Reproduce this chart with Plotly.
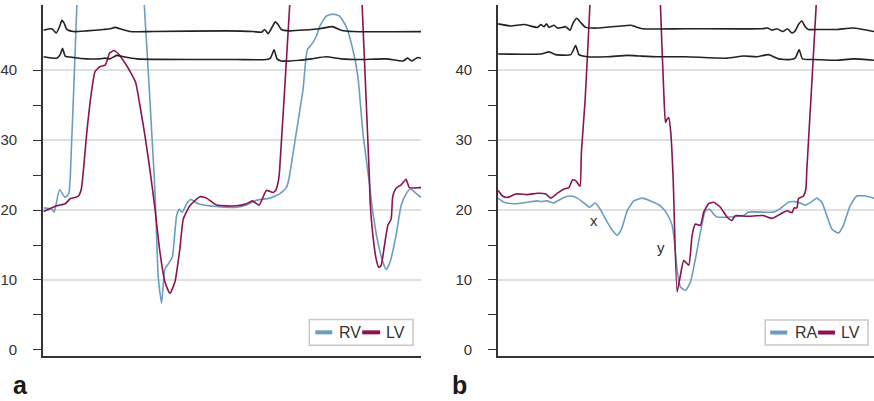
import plotly.graph_objects as go

W, H = 874, 401

# ---------------- Panel a: RV vs LV ----------------
a_rv_t = [1.0, 9, 11.3, 16.7, 22.3, 26.0, 27.5, 34, 36, 60, 95, 101.7, 111.5, 113, 115.7, 119,
          122.3, 125.7, 129.7, 134, 136.7, 139.7, 144, 148.3, 155.7, 174, 194, 204, 214, 227.3,
          237.3, 244, 246.5, 254, 260.7, 265, 269, 274, 277.3, 284, 290.7, 297.3, 304, 310.7,
          315.7, 320.7, 326.7, 330.7, 335.7, 340.7, 344, 348, 354, 359, 364, 368.3, 372.3, 379]
a_rv_v = [20.3, 20.1, 19.7, 22.9, 21.8, 22.4, 25.0, 49.1, 56, 70, 62, 49.1, 25.0, 20.2, 10.2, 6.7,
          11.6, 12.3, 13.3, 19.2, 20.1, 19.7, 20.9, 21.5, 20.9, 20.5, 20.4, 20.7, 21.4, 21.7,
          22.3, 23.2, 24.4, 31.1, 37.2, 42.9, 43.6, 44.8, 46.2, 47.7, 48.0, 47.7, 46.2, 42.9,
          39.1, 31.1, 24.4, 19.7, 15.4, 12.6, 11.5, 12.6, 16.4, 20.6, 22.3, 23.0, 22.6, 21.8]

a_lv_t = [0.7, 14, 22.3, 27.3, 32.3, 35.7, 38.5, 40.5, 44, 49, 52.3, 57.3, 62.3, 64.7, 66.7, 71.3,
          75.7, 82.3, 87.3, 93, 97.3, 102.3, 108, 112.3, 117.3, 122.3, 127.3, 132.3, 137.3, 140.7,
          147.3, 157.3, 164, 174, 194, 204, 210, 216.7, 224, 230.7, 234, 236.3, 237.3, 247.3, 250,
          290, 318, 320, 327.3, 328, 330.7, 334, 336.7, 339, 342.3, 345.7, 349, 350.7, 354, 359,
          364, 367.3, 377.3, 379]
a_lv_v = [19.8, 20.6, 20.9, 21.6, 21.8, 22.0, 23.0, 25.5, 31.1, 37.2, 39.8, 40.5, 40.7, 41.5, 42.4,
          42.8, 42.3, 41.0, 39.8, 38.2, 34.9, 30.6, 25.0, 20.2, 14.0, 9.7, 8.1, 9.7, 14.5, 18.7,
          20.6, 21.9, 21.7, 20.7, 20.6, 20.9, 21.3, 20.7, 22.8, 22.5, 23.0, 24.4, 25.8, 49.1, 56,
          120, 56, 49.1, 24.4, 21.1, 16.4, 13.0, 11.8, 12.1, 14.9, 17.8, 18.7, 22.0, 23.1, 23.6,
          24.4, 23.2, 23.2, 23.2]

a_ecg1_t = [0.7, 9, 13.3, 16.7, 19, 21.3, 24, 30.7, 44, 60.7, 67.3, 72.3, 77.3, 87.3, 110.7, 184,
            210.7, 219, 222.3, 225.7, 230, 233, 235.7, 239, 247.3, 277.3, 290, 299, 310.7, 380.7]
a_ecg1_v = [45.7, 45.9, 45.3, 46.2, 47.1, 46.7, 45.8, 45.5, 45.6, 45.8, 45.9, 46.1, 45.9, 45.5,
            45.5, 45.6, 45.5, 45.4, 45.8, 45.2, 46.2, 46.9, 46.5, 45.8, 45.6, 45.9, 46.2, 45.7,
            45.5, 45.5]

a_ecg2_t = [0.7, 14, 17.3, 19.7, 22.3, 30.7, 44, 57.3, 62.3, 67.3, 74, 80.7, 94, 194, 224, 228,
            231.7, 234.7, 239, 257.3, 269, 284, 299, 317.3, 344, 360.7, 365.7, 369.7, 375.7, 380.7]
a_ecg2_v = [41.9, 41.7, 42.2, 43.1, 42.0, 41.8, 41.6, 41.6, 41.7, 41.6, 42.1, 41.9, 41.6, 41.5,
            41.5, 41.7, 42.9, 41.6, 41.3, 41.4, 41.6, 41.9, 41.6, 41.5, 41.6, 41.3, 41.7, 41.3,
            41.8, 41.6]

# ---------------- Panel b: RA vs LV ----------------
b_ra_t = [0.3, 6.3, 16.3, 29.7, 39.7, 43, 49.7, 55.7, 59.7, 66.3, 73, 79.7, 86.3, 92, 97.3, 101.3,
          108, 114.7, 119.7, 124, 129.7, 136.3, 144.7, 153, 163, 169.7, 174.7, 177, 179.7, 183,
          188, 193, 198, 203, 208, 212.3, 216.3, 219.7, 233, 246.3, 251.3, 276.3, 283, 291.3, 298,
          303, 308, 314.7, 319.7, 324.7, 329.7, 334.7, 341.3, 346.3, 353, 359.7, 368, 377]
b_ra_v = [21.7, 21.1, 20.9, 21.1, 21.3, 21.2, 21.3, 21.0, 21.3, 21.8, 22.0, 21.7, 21.0, 20.4, 21.0,
          20.4, 18.7, 17.1, 16.4, 17.3, 19.9, 21.3, 21.7, 21.3, 20.6, 19.4, 17.8, 15.4, 11.4, 9.0,
          8.5, 9.7, 13.0, 16.8, 19.9, 20.1, 19.4, 19.0, 19.0, 19.2, 19.7, 19.7, 20.2, 21.1, 21.2,
          21.0, 20.7, 21.2, 21.7, 21.1, 19.2, 17.3, 16.7, 17.8, 20.6, 22.0, 22.0, 21.7]

b_lv_t = [0.3, 4.7, 9.7, 18, 29.7, 39.7, 48, 53, 59.7, 66.3, 71.3, 74.7, 78, 82.3, 83.7, 87.5, 92.2,
          94, 130, 162, 163, 166.3, 168, 169.7, 171.3, 173.3, 175.7, 176.3, 179.7, 183, 186.3,
          191.3, 194.7, 198, 203, 206.3, 211.3, 216.3, 223, 229.7, 234.7, 238, 249.7, 266.3,
          274.7, 283, 289.7, 294.7, 297, 299.7, 301.3, 306.3, 308.7, 309.7, 319, 322]
b_lv_v = [22.8, 22.0, 21.8, 22.3, 22.2, 22.4, 22.3, 21.7, 22.4, 23.0, 23.2, 24.3, 24.2, 23.4, 28.2,
          35.8, 49.1, 56, 100, 56, 49.1, 36.8, 32.5, 33.0, 33.2, 31.1, 24.4, 21.6, 8.3, 10.7, 12.8,
          12.1, 16.4, 18.0, 17.8, 19.7, 20.9, 21.1, 20.4, 19.0, 18.5, 19.2, 19.1, 19.2, 18.8, 19.4,
          19.9, 19.6, 20.3, 20.3, 21.6, 22.0, 23.0, 25.8, 49.1, 60]

b_ecg1_t = [0.3, 13, 26.3, 39.7, 43, 46.3, 48.7, 51.3, 56.3, 59.7, 64.7, 68, 72.3, 75.7, 79, 83, 88,
            99.7, 133, 138, 144.7, 188, 264.7, 270.3, 274.7, 279.7, 285.7, 290.3, 294.7, 298,
            301.3, 304.7, 308, 311.3, 323, 339.7, 356.3, 377]
b_ecg1_v = [46.6, 46.3, 46.5, 46.1, 46.5, 46.2, 46.6, 46.1, 46.4, 46.0, 46.1, 46.2, 45.7, 46.8,
            47.4, 46.8, 46.1, 46.0, 46.4, 46.2, 45.9, 45.9, 45.9, 46.0, 45.7, 45.9, 45.5, 45.9,
            45.3, 45.6, 46.5, 47.0, 46.2, 45.8, 45.8, 45.8, 46.0, 45.5]

b_ecg2_t = [0.3, 43, 51.3, 58, 73, 78, 81.3, 89.7, 109.7, 129.7, 143, 159.7, 188, 229.7, 246.3,
            259.7, 271.3, 281.3, 293, 298, 302, 305.3, 316.3, 339.7, 356.3, 377]
b_ecg2_v = [42.3, 42.3, 42.6, 42.2, 42.2, 43.5, 42.2, 41.9, 41.9, 42.1, 42.0, 41.9, 41.9, 41.7,
            42.0, 41.9, 42.2, 41.6, 41.5, 41.7, 42.9, 41.6, 41.5, 41.4, 41.6, 41.4]

# Axis ticks and labels
tick_vals = [0, 5, 10, 15, 20, 25, 30, 35, 40]
tick_text = ["0", "", "10", "", "20", "", "30", "", "40"]
grid_vals = [10, 20, 30, 40]

BLUE = "#6b9dc1"
MAROON = "#8a1350"
BLACK = "#222222"
AXIS = "#333333"
GRID = "#d6d6d6"
FONT = "Liberation Sans, Arial, sans-serif"


def px(x):
    return x / W


def py(y):
    return 1 - y / H


fig = go.Figure()

line_kw = dict(shape="spline", smoothing=0.5)

for xs, ys, col, ax in [
    (a_rv_t, a_rv_v, BLUE, "1"), (a_lv_t, a_lv_v, MAROON, "1"),
    (a_ecg1_t, a_ecg1_v, BLACK, "1"), (a_ecg2_t, a_ecg2_v, BLACK, "1"),
    (b_ra_t, b_ra_v, BLUE, "2"), (b_lv_t, b_lv_v, MAROON, "2"),
    (b_ecg1_t, b_ecg1_v, BLACK, "2"), (b_ecg2_t, b_ecg2_v, BLACK, "2"),
]:
    fig.add_trace(go.Scatter(
        x=xs, y=ys, mode="lines",
        line=dict(color=col, width=1.6, **line_kw),
        xaxis="x" if ax == "1" else "x2", yaxis="y" if ax == "1" else "y2",
        showlegend=False, hoverinfo="skip"))

y_dom = [py(357.7), py(5)]
y_rng = [-0.85, 49.3]

yax = dict(range=y_rng, domain=y_dom, showgrid=False, zeroline=False,
           showline=True, linecolor=AXIS, linewidth=1.6,
           ticks="outside", ticklen=8, tickwidth=1.4, tickcolor=AXIS,
           tickmode="array", tickvals=tick_vals, ticktext=tick_text,
           ticklabelstandoff=13,
           tickfont=dict(family=FONT, size=15, color=AXIS))
xax = dict(showgrid=False, zeroline=False, showticklabels=False, ticks="",
           showline=True, linecolor=AXIS, linewidth=1.6)

fig.update_layout(
    width=W, height=H,
    margin=dict(l=0, r=0, t=0, b=0),
    paper_bgcolor="white", plot_bgcolor="white",
    xaxis=dict(xax, domain=[px(41), px(420)], range=[0, 379], anchor="y"),
    yaxis=dict(yax, anchor="x"),
    xaxis2=dict(xax, domain=[px(497), 1.0], range=[0, 377], anchor="y2"),
    yaxis2=dict(yax, anchor="x2"),
)

shapes = []
for gv in grid_vals:
    for xr, yr in [("x domain", "y"), ("x2 domain", "y2")]:
        shapes.append(dict(type="line", xref=xr, yref=yr, x0=0, x1=1, y0=gv, y1=gv,
                           line=dict(color=GRID, width=1.5), layer="below"))

annotations = []


def legend_box(x0, x1, y0, y1, items):
    shapes.append(dict(type="rect", xref="paper", yref="paper",
                       x0=px(x0), x1=px(x1), y0=py(y1), y1=py(y0),
                       line=dict(color="#c8c8c8", width=1.5), fillcolor="white"))
    yc = (y0 + y1) / 2
    for lx0, lx1, tx, label, col in items:
        shapes.append(dict(type="line", xref="paper", yref="paper",
                           x0=px(lx0), x1=px(lx1), y0=py(yc), y1=py(yc),
                           line=dict(color=col, width=4)))
        annotations.append(dict(xref="paper", yref="paper", x=px(tx), y=py(yc),
                                xanchor="left", yanchor="middle", showarrow=False,
                                text=label, font=dict(family=FONT, size=16, color=AXIS)))


legend_box(308, 412, 321, 347, [(314, 331, 335.5, "RV", BLUE), (361, 379, 382.5, "LV", MAROON)])
legend_box(765, 868, 321.7, 346.7, [(770, 787, 792.5, "RA", BLUE), (818, 835, 839, "LV", MAROON)])

# wave labels on the RA trace
annotations.append(dict(xref="x2", yref="y2", x=96.3, y=18.5, text="x", showarrow=False,
                        font=dict(family=FONT, size=15, color=AXIS)))
annotations.append(dict(xref="x2", yref="y2", x=163.7, y=14.6, text="y", showarrow=False,
                        font=dict(family=FONT, size=15, color=AXIS)))

# panel letters
for letter, xpos in [("a", 9), ("b", 449)]:
    annotations.append(dict(xref="paper", yref="paper", x=px(xpos), y=py(387),
                            xanchor="left", yanchor="middle", showarrow=False,
                            text=f"<b>{letter}</b>",
                            font=dict(family=FONT, size=25, color="#1a1a1a")))

fig.update_layout(shapes=shapes, annotations=annotations)

fig.write_html("out.html")
